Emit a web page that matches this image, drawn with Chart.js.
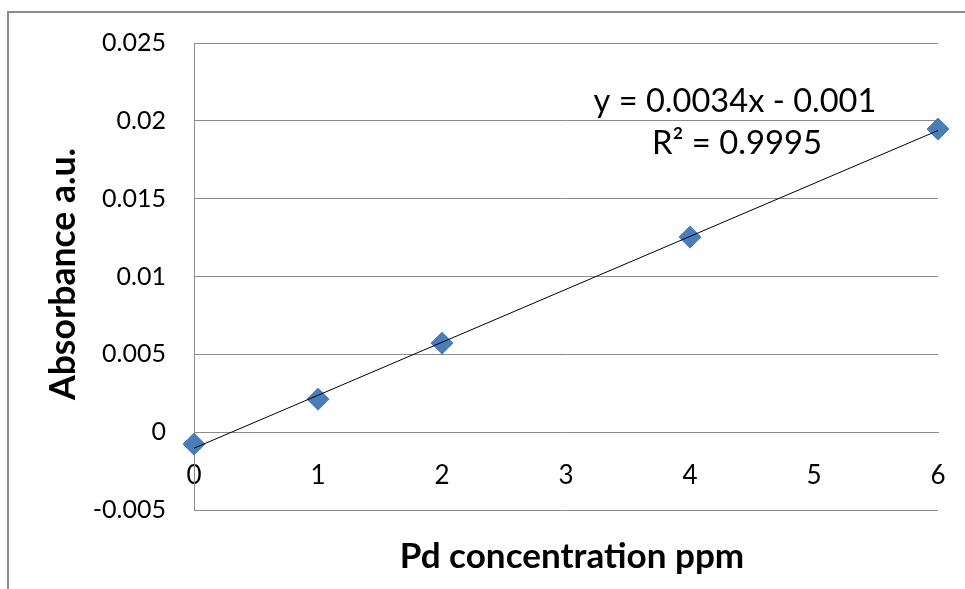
<!DOCTYPE html>
<html>
<head>
<meta charset="utf-8">
<script src="https://cdn.jsdelivr.net/npm/chart.js@4.4.0/dist/chart.umd.js"></script>
<style>
  html, body { margin: 0; padding: 0; background: #fff; }
  #wrap { position: relative; width: 965px; height: 589px; }
</style>
</head>
<body>
<div id="wrap"><canvas id="chart" width="965" height="589"></canvas></div>
<script>
// calibration data
const concentrations = [0, 1, 2, 4, 6];
const absorbances = [-0.00077, 0.00212, 0.00572, 0.01253, 0.01947];
const xTickLabels = ['0', '1', '2', '3', '4', '5', '6'];
const yTickLabels = ['-0.005', '0', '0.005', '0.01', '0.015', '0.02', '0.025'];
const equationText = 'y = 0.0034x - 0.001';
const rSquaredText = 'R² = 0.9995';
const xTitle = 'Pd concentration ppm';
const yTitle = 'Absorbance a.u.';

const FONT = 'Lato, "Liberation Sans", sans-serif';

// least squares line through the points
const n = concentrations.length;
const mx = concentrations.reduce((a, b) => a + b, 0) / n;
const my = absorbances.reduce((a, b) => a + b, 0) / n;
let sxy = 0, sxx = 0;
concentrations.forEach((x, i) => { sxy += (x - mx) * (absorbances[i] - my); sxx += (x - mx) * (x - mx); });
const slope = sxy / sxx;
const intercept = my - slope * mx;
const xFirst = Number(xTickLabels[0]);
const xLast = Number(xTickLabels[xTickLabels.length - 1]);
const trendPoints = [xFirst, xLast].map(x => ({ x: x, y: slope * x + intercept }));

// pick a font size so the text is as wide as in the picture
function fitFont(ctx, text, weight, width) {
  ctx.font = weight + ' 100px ' + FONT;
  const size = 100 * width / ctx.measureText(text).width;
  return weight + ' ' + size.toFixed(1) + 'px ' + FONT;
}

// border, axis titles and trendline label
const excelDecor = {
  id: 'excelDecor',
  afterDraw(chart) {
    const { ctx } = chart;
    ctx.save();
    ctx.strokeStyle = '#8c8c8c';
    ctx.lineWidth = 2;
    ctx.beginPath();
    ctx.moveTo(8, 589);
    ctx.lineTo(8, 12);
    ctx.lineTo(965, 12);
    ctx.stroke();

    ctx.fillStyle = '#000';
    ctx.textAlign = 'center';
    ctx.textBaseline = 'middle';
    ctx.font = fitFont(ctx, xTitle, 'bold', 345);
    ctx.fillText(xTitle, 572, 557);

    ctx.save();
    ctx.translate(64, 274);
    ctx.rotate(-Math.PI / 2);
    ctx.font = fitFont(ctx, yTitle, 'bold', 252);
    ctx.fillText(yTitle, 0, 0);
    ctx.restore();

    ctx.font = fitFont(ctx, equationText, 'normal', 283);
    ctx.fillText(equationText, 735, 101);
    ctx.font = fitFont(ctx, rSquaredText, 'normal', 170);
    ctx.fillText(rSquaredText, 737, 143);
    ctx.restore();
  }
};

new Chart(document.getElementById('chart'), {
  type: 'scatter',
  data: {
    datasets: [
      {
        type: 'line',
        label: 'Linear fit',
        data: trendPoints,
        borderColor: '#000',
        borderWidth: 1,
        pointRadius: 0,
        fill: false
      },
      {
        label: 'Absorbance',
        data: concentrations.map((x, i) => ({ x: x, y: absorbances[i] })),
        pointStyle: 'rectRot',
        pointRadius: 11,
        backgroundColor: '#4A7EBB',
        borderColor: '#4A7EBB',
        borderWidth: 1,
        clip: false
      }
    ]
  },
  options: {
    responsive: false,
    animation: false,
    layout: { padding: { left: 7, top: 43, right: 27, bottom: 79 } },
    plugins: {
      legend: { display: false },
      tooltip: { enabled: false }
    },
    scales: {
      x: {
        type: 'linear',
        position: { y: 0 },
        min: xFirst,
        max: xLast,
        afterBuildTicks: s => { s.ticks = xTickLabels.map(v => ({ value: Number(v) })); },
        afterFit: s => { s.paddingLeft = 0; s.paddingRight = 0; },
        ticks: {
          callback: (v, i) => xTickLabels[i],
          font: { family: FONT, size: 26 },
          color: '#000',
          padding: 28,
          maxRotation: 0
        },
        grid: { display: false, drawTicks: false },
        border: { display: true, color: '#8c8c8c', width: 1 }
      },
      y: {
        type: 'linear',
        min: Number(yTickLabels[0]),
        max: Number(yTickLabels[yTickLabels.length - 1]),
        afterBuildTicks: s => { s.ticks = yTickLabels.map(v => ({ value: Number(v) })); },
        afterFit: s => { s.width = 187; s.paddingTop = 0; s.paddingBottom = 0; },
        ticks: {
          callback: (v, i) => yTickLabels[i],
          font: { family: FONT, size: 25 },
          color: '#000',
          padding: 28
        },
        grid: { color: '#8c8c8c', lineWidth: 1, drawTicks: false },
        border: { display: true, color: '#8c8c8c', width: 1 }
      }
    }
  },
  plugins: [excelDecor]
});
</script>
</body>
</html>
